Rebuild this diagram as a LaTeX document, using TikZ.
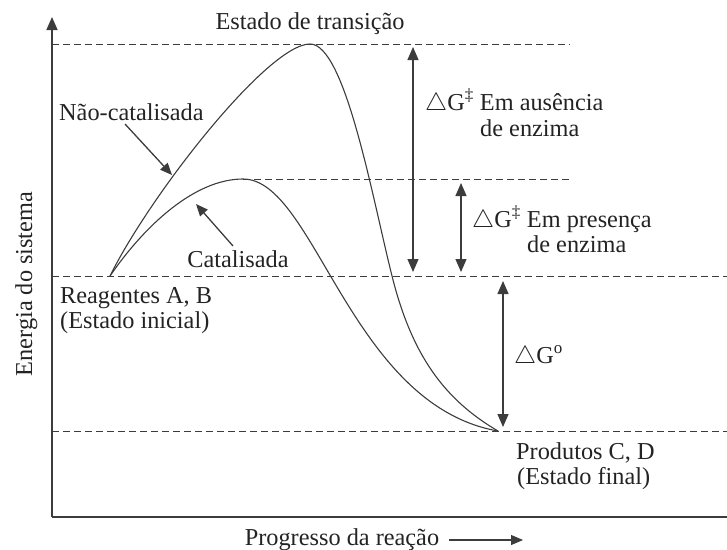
\documentclass[tikz,border=0pt]{standalone}
\usepackage{fontspec}
\setmainfont{Liberation Serif}
\usetikzlibrary{arrows.meta}
\definecolor{ink}{RGB}{35,35,35}
\definecolor{lineink}{RGB}{60,60,60}
\begin{document}
\begin{tikzpicture}[x=1pt,y=-1pt,
  font=\fontsize{24.3}{26}\selectfont,
  txt/.style={inner sep=0pt,text=ink,anchor=base west},
  axis/.style={draw=lineink,line width=1.6pt},
  guide/.style={draw=lineink,line width=1pt,dash pattern=on 7pt off 4pt},
  curve/.style={draw=lineink,line width=1.1pt},
  dbl/.style={draw=lineink,line width=1.3pt,{Triangle[width=11pt,length=13pt]}-{Triangle[width=11pt,length=13pt]}},
  pointer/.style={draw=lineink,line width=1.3pt,-{Triangle[width=10pt,length=12pt]}}]
\useasboundingbox (0,0) rectangle (727,549);
% axes
\coordinate (O) at (52,517);
\coordinate (Ytop) at (52,17);
\coordinate (Xend) at (727,517);
\draw[axis,-{Triangle[width=11pt,length=13pt]}] (O) -- (Ytop);
\draw[axis] (O) -- (Xend);
% guide lines
\coordinate (T1) at (52,44);  \coordinate (T2) at (570,44);
\coordinate (M1) at (243,179); \coordinate (M2) at (570,179);
\coordinate (R1) at (52,276); \coordinate (R2) at (727,276);
\coordinate (F1) at (52,431); \coordinate (F2) at (727,431);
\draw[guide] (T1) -- (T2);
\draw[guide] (M1) -- (M2);
\draw[guide] (R1) -- (R2);
\draw[guide] (F1) -- (F2);
% curves
\coordinate (A) at (110,276);
\coordinate (P) at (310,44);
\coordinate (K) at (392,276);
\coordinate (Q) at (243,179);
\coordinate (E) at (498,431);
\draw[curve] (A) .. controls (150,195) and (268,44) .. (P)
  .. controls (345,44) and (372,196) .. (K)
  .. controls (412,356) and (445,400) .. (E);
\draw[curve] (A) .. controls (145,225) and (195,179) .. (Q)
  .. controls (315,179) and (350,405) .. (E);
% double arrows
\coordinate (a1t) at (413,47);  \coordinate (a1b) at (413,272);
\coordinate (a2t) at (461,183); \coordinate (a2b) at (461,272);
\coordinate (a3t) at (503,281); \coordinate (a3b) at (503,427);
\draw[dbl] (a1t) -- (a1b);
\draw[dbl] (a2t) -- (a2b);
\draw[dbl] (a3t) -- (a3b);
% texts
\node[txt,anchor=base] (ts) at (310,29) {Estado de transição};
\node[txt] (nc) at (59,120) {Não-catalisada};
\node[txt,anchor=base] (cat) at (238,267) {Catalisada};
\node[txt] (re1) at (60,303) {Reagentes A, B};
\node[txt] (re2) at (60,328) {(Estado inicial)};
\node[txt] (g1) at (425,110) {$\triangle$G\textsuperscript{‡} Em ausência};
\node[txt] (g1b) at (480,136) {de enzima};
\node[txt] (g2) at (472,227) {$\triangle$G\textsuperscript{‡} Em presença};
\node[txt] (g2b) at (527,252) {de enzima};
\node[txt] (g3) at (514,363) {$\triangle$G\textsuperscript{o}};
\node[txt] (pr1) at (516,459) {Produtos C, D};
\node[txt] (pr2) at (517,484) {(Estado final)};
\node[txt,anchor=base,rotate=90] (ylab) at (32,284) {Energia do sistema};
\node[txt,anchor=base] (xlab) at (342,545) {Progresso da reação};
% pointers
\coordinate (nct) at (125,124); \coordinate (ncp) at (172,175);
\coordinate (cat0) at (233,246); \coordinate (catp) at (196,204);
\draw[pointer] (nct) -- (ncp);
\draw[pointer] (cat0) -- (catp);
\coordinate (xa1) at (449,540); \coordinate (xa2) at (523,540);
\draw[pointer,line width=1.1pt] (xa1) -- (xa2);
\end{tikzpicture}
\end{document}
